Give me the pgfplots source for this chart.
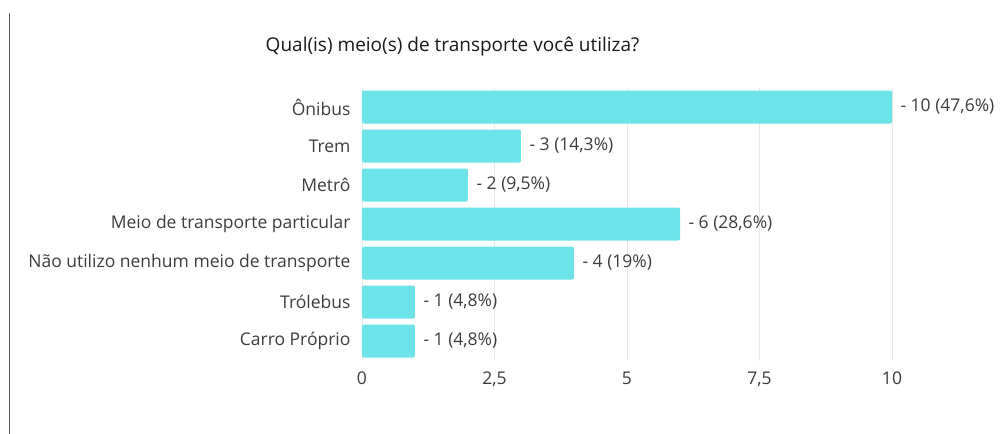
\documentclass[border=0pt]{standalone}
\usepackage{pgfplots}
\pgfplotsset{compat=1.18}
\usepackage{fontspec}
\setmainfont{Open Sans}
\definecolor{barcyan}{RGB}{108,227,232}
\definecolor{txtgray}{RGB}{60,60,60}

\begin{document}
\begin{tikzpicture}[x=1pt,y=1pt]
\useasboundingbox (0,0) rectangle (1005,-434);
\draw[gray!70!black,line width=1pt] (9.5,-13) -- (9.5,-434);
\node[font=\fontsize{19}{22}\selectfont,text=black!90,anchor=center] at (452.5,-47) {Qual(is) meio(s) de transporte você utiliza?};
\begin{axis}[
  at={(362pt,-360.5pt)}, anchor=south west,
  scale only axis, width=530pt, height=273pt,
  xbar, bar width=33pt,
  xmin=0, xmax=10, ymin=-0.5, ymax=6.5,
  clip=false,
  axis line style={draw=none},
  major tick length=0pt,
  xmajorgrids, grid style={gray!18,line width=0.8pt},
  xtick={0,2.5,5,7.5,10}, xticklabels={0,{2,5},5,{7,5},10},
  ytick={0,...,6},
  yticklabels={Carro Próprio,Trólebus,Não utilizo nenhum meio de transporte,Meio de transporte particular,Metrô,Trem,Ônibus},
  tick label style={font=\fontsize{17.5}{20}\selectfont,text=txtgray},
  yticklabel style={xshift=-8pt},
  xticklabel style={yshift=-8pt},
  point meta=explicit symbolic,
  nodes near coords,
  nodes near coords style={font=\fontsize{17.5}{20}\selectfont,text=txtgray,anchor=west,xshift=5pt},
]
\addplot[draw=none,fill=barcyan,rounded corners=2pt] coordinates {
  (1,0) [- 1 (4,8\%)]
  (1,1) [- 1 (4,8\%)]
  (4,2) [- 4 (19\%)]
  (6,3) [- 6 (28,6\%)]
  (2,4) [- 2 (9,5\%)]
  (3,5) [- 3 (14,3\%)]
  (10,6) [- 10 (47,6\%)]
};
\end{axis}
\end{tikzpicture}
\end{document}
